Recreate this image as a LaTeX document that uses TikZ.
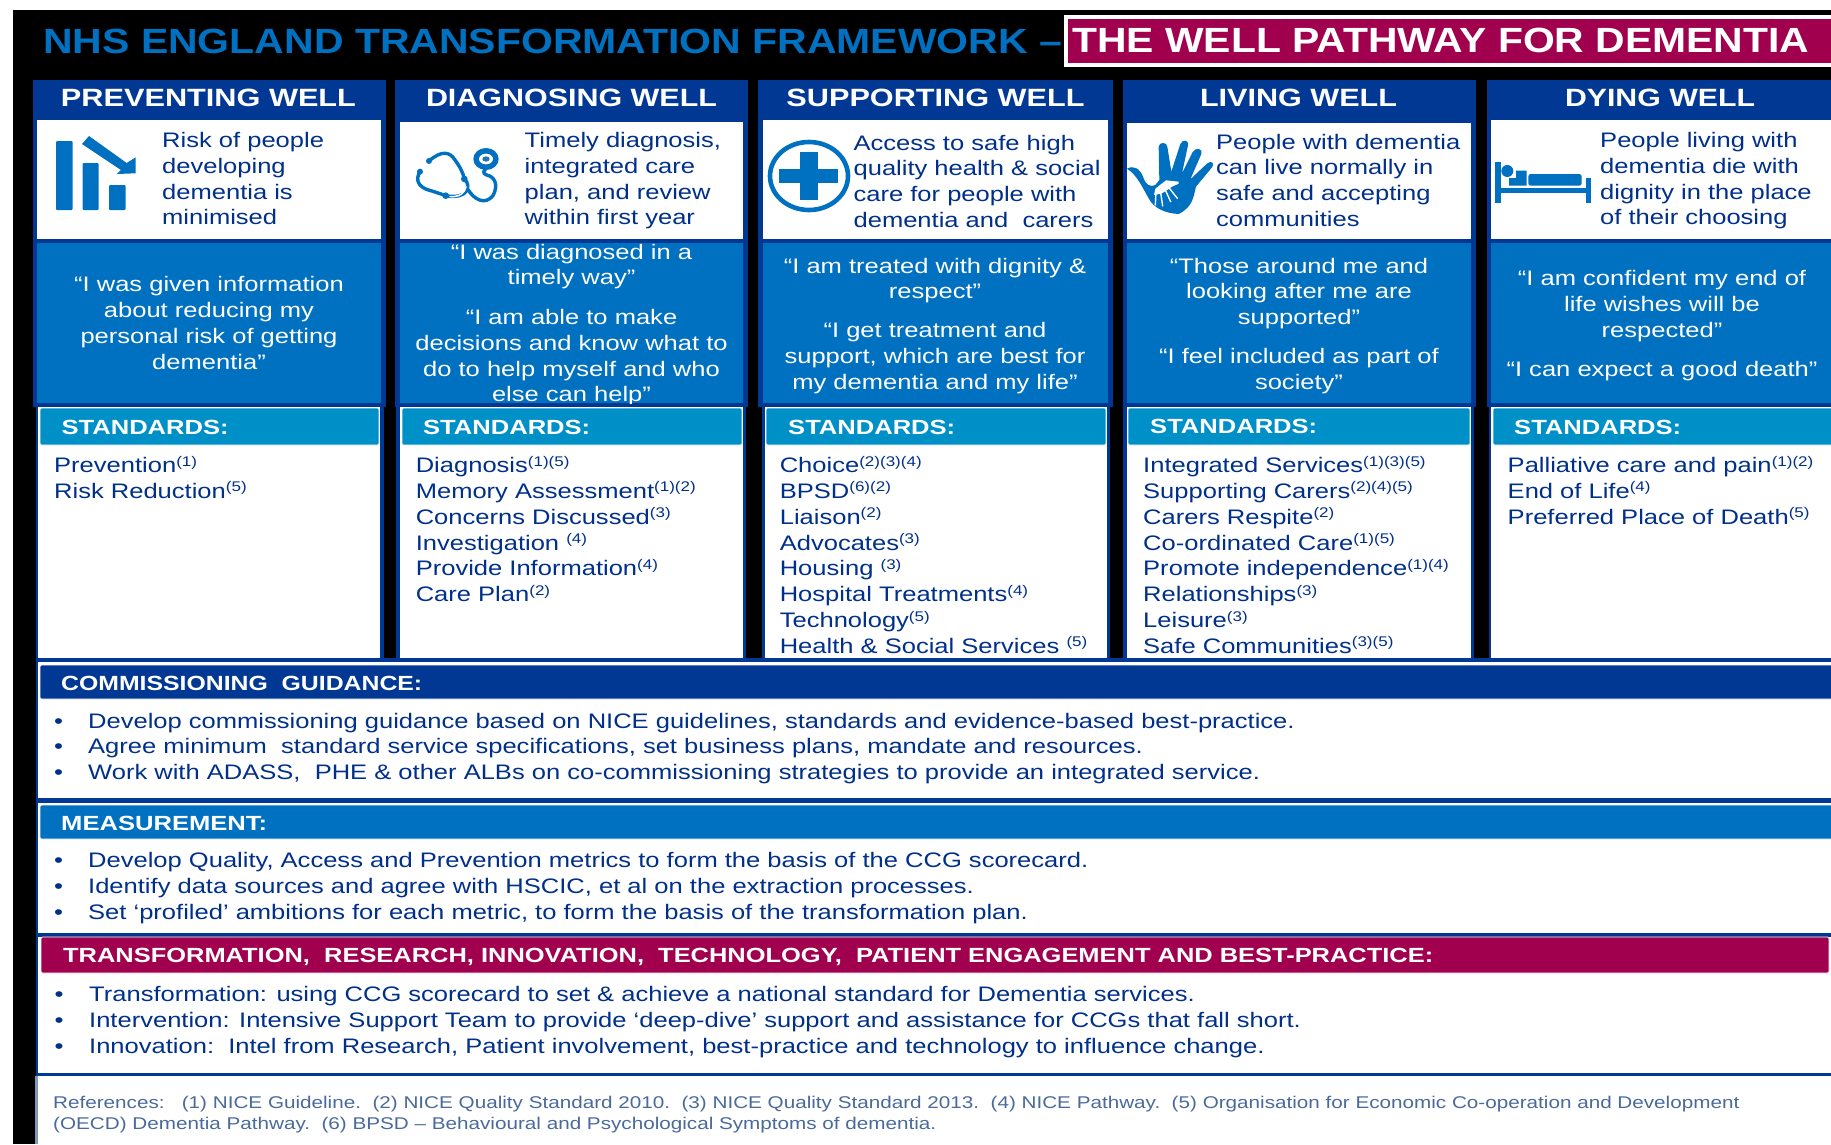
\documentclass[tikz,border=0pt]{standalone}
\usepackage{fontspec}
\usepackage{graphicx}
\setmainfont[FakeStretch=1.216]{Liberation Sans}
\definecolor{navy}{HTML}{003893}
\definecolor{nhs}{HTML}{0070C0}
\definecolor{std}{HTML}{0090C8}
\definecolor{crim}{HTML}{A0004E}
\definecolor{ink}{HTML}{00308A}
\definecolor{refink}{HTML}{4A6A9C}
\newcommand\fb{\rule{0pt}{20pt}}
\newcommand\sps[1]{\raisebox{6.5pt}{\fontsize{14}{14}\selectfont #1}}
\newcommand\fitw[2]{\resizebox{#1pt}{\height}{#2}}
\tikzset{
  band/.style={fill=navy,draw=none},
  whitebox/.style={fill=white,draw=none},
  bluebox/.style={fill=nhs,draw=none},
  stdbar/.style={fill=std,draw=white,line width=.6pt,rounded corners=1.5pt},
  crimbar/.style={fill=crim,draw=white,line width=.6pt,rounded corners=1.5pt},
  navybar/.style={fill=navy,draw=white,line width=.6pt,rounded corners=1.5pt},
  bluebar/.style={fill=nhs,draw=white,line width=.6pt,rounded corners=1.5pt},
  coltitle/.style={font=\fontsize{25}{25}\bfseries\selectfont,text=white,inner sep=0,anchor=base},
  barlabel/.style={font=\fontsize{20.5}{25}\bfseries\selectfont,text=white,inner sep=0,anchor=base west},
  body/.style={font=\fontsize{21}{25.7}\selectfont,text=ink,inner sep=0,align=left,anchor=north west},
  listing/.style={font=\fontsize{21}{25.85}\selectfont,text=ink,inner sep=0,align=left,anchor=north west},
  quote/.style={font=\fontsize{21}{25.7}\selectfont,text=white,inner sep=0,align=center,anchor=north},
  refs/.style={font=\fontsize{17}{21}\selectfont,text=refink,inner sep=0,align=left,anchor=north west},
  icon/.style={fill=nhs,draw=none},
  iconline/.style={draw=nhs,line width=3.4pt,line cap=round,fill=none},
}
\begin{document}
\begin{tikzpicture}[x=1pt,y=-1pt]
\useasboundingbox (0,0) rectangle (1831,1144);
\fill[white] (0,0) rectangle (1831,1144);
\fill[black] (13,10) rectangle (1831,1144);
% title
\node[inner sep=0,anchor=base west,text=nhs,font=\fontsize{35}{35}\bfseries\selectfont] (maintitle) at (43,53.3) {\fitw{1019}{NHS ENGLAND TRANSFORMATION FRAMEWORK –}};
\fill[crim,draw=white,line width=4pt] (1066,17) rectangle (1840,65);
\node[inner sep=0,anchor=base west,text=white,font=\fontsize{35}{35}\bfseries\selectfont] (subtitle) at (1072,52.7) {\fitw{737}{THE WELL PATHWAY FOR DEMENTIA}};
% column frames
\fill[band] (33,80) rectangle (386,407);
\fill[band] (395,80) rectangle (748,407);
\fill[band] (758,80) rectangle (1113,407);
\fill[band] (1123,80) rectangle (1476,407);
\fill[band] (1487,80) rectangle (1831,407);
\fill[band] (35.5,407) rectangle (383.5,664);
\fill[band] (396,407) rectangle (746,664);
\fill[band] (762,407) rectangle (1110,664);
\fill[band] (1123,407) rectangle (1474,664);
\fill[band] (1489,407) rectangle (1831,664);
% icon boxes
\fill[whitebox] (37,120) rectangle (381,239);
\fill[whitebox] (400,122) rectangle (743,239);
\fill[whitebox] (763,120) rectangle (1108,239);
\fill[whitebox] (1127,123) rectangle (1471,239);
\fill[whitebox] (1491,120) rectangle (1831,239);
% quote boxes
\fill[bluebox] (37,243) rectangle (381,403);
\fill[bluebox] (400,243) rectangle (743,403);
\fill[bluebox] (763,243) rectangle (1108,403);
\fill[bluebox] (1127,243) rectangle (1471,403);
\fill[bluebox] (1491,243) rectangle (1831,403);
% column titles
\node[coltitle] (t1) at (208.5,106) {\fitw{295}{PREVENTING WELL}};
\node[coltitle] (t2) at (571.5,106) {\fitw{291}{DIAGNOSING WELL}};
\node[coltitle] (t3) at (935.5,106) {\fitw{298}{SUPPORTING WELL}};
\node[coltitle] (t4) at (1298.5,106) {\fitw{197}{LIVING WELL}};
\node[coltitle] (t5) at (1660,106) {\fitw{190}{DYING WELL}};
% icon texts
\node[body] (a1) at (162,127.6) {\fb Risk of people\\developing\\dementia is\\minimised};
\node[body] (a2) at (524.5,127.6) {\fb Timely diagnosis,\\integrated care\\plan, and review\\within first year};
\node[body] (a3) at (853.4,130) {\fb Access to safe high\\quality health \& social\\care for people with\\dementia and\ \ carers};
\node[body] (a4) at (1216,129) {\fb People with dementia\\can live normally in\\safe and accepting\\communities};
\node[body] (a5) at (1600,127.6) {\fb People living with\\dementia die with\\dignity in the place\\of their choosing};
% quotes
\node[quote] (q1) at (209,271.7) {\fb “I was given information\\about reducing my\\personal risk of getting\\dementia”};
\begin{scope}
\clip (400,243) rectangle (743,403);
\node[quote] (q2) at (571.5,239) {\fb “I was diagnosed in a\\timely way”\\[14pt]“I am able to make\\decisions and know what to\\do to help myself and who\\else can help”};
\end{scope}
\node[quote] (q3) at (935,253) {\fb “I am treated with dignity \&\\respect”\\[13.2pt]“I get treatment and\\support, which are best for\\my dementia and my life”};
\node[quote] (q4) at (1299,253) {\fb “Those around me and\\looking after me are\\supported”\\[13.2pt]“I feel included as part of\\society”};
\node[quote] (q5) at (1662,265.7) {\fb “I am confident my end of\\life wishes will be\\respected”\\[13.2pt]“I can expect a good death”};
% standards panels
\fill[whitebox] (38,407) rectangle (380,658);
\fill[whitebox] (399.5,407) rectangle (743.4,658);
\fill[whitebox] (765,407) rectangle (1107,658);
\fill[whitebox] (1127,407) rectangle (1471,658);
\fill[whitebox] (1491,407) rectangle (1831,658);
\path[stdbar] (40,408) rectangle (379,445);
\path[stdbar] (402,408) rectangle (742,445);
\path[stdbar] (766,408) rectangle (1106,445);
\path[stdbar] (1128,408) rectangle (1470,445);
\path[stdbar] (1493,408) rectangle (1840,445);
\node[barlabel] (s1) at (61.4,434) {\fitw{167}{STANDARDS:}};
\node[barlabel] (s2) at (423,434) {\fitw{167}{STANDARDS:}};
\node[barlabel] (s3) at (788,434) {\fitw{167}{STANDARDS:}};
\node[barlabel] (s4) at (1150,433) {\fitw{167}{STANDARDS:}};
\node[barlabel] (s5) at (1514,434) {\fitw{167}{STANDARDS:}};
\node[listing] (l1) at (54,452.3) {\fb Prevention\sps{(1)}\\Risk Reduction\sps{(5)}};
\node[listing] (l2) at (415.6,452.3) {\fb Diagnosis\sps{(1)(5)}\\Memory Assessment\sps{(1)(2)}\\Concerns Discussed\sps{(3)}\\Investigation \sps{(4)}\\Provide Information\sps{(4)}\\Care Plan\sps{(2)}};
\node[listing] (l3) at (779.6,452.3) {\fb Choice\sps{(2)(3)(4)}\\BPSD\sps{(6)(2)}\\Liaison\sps{(2)}\\Advocates\sps{(3)}\\Housing \sps{(3)}\\Hospital Treatments\sps{(4)}\\Technology\sps{(5)}\\Health \& Social Services \sps{(5)}};
\node[listing] (l4) at (1143,452.3) {\fb Integrated Services\sps{(1)(3)(5)}\\Supporting Carers\sps{(2)(4)(5)}\\Carers Respite\sps{(2)}\\Co-ordinated Care\sps{(1)(5)}\\Promote independence\sps{(1)(4)}\\Relationships\sps{(3)}\\Leisure\sps{(3)}\\Safe Communities\sps{(3)(5)}};
\node[listing] (l5) at (1507.5,452.3) {\fb Palliative care and pain\sps{(1)(2)}\\End of Life\sps{(4)}\\Preferred Place of Death\sps{(5)}};
% lower bands
\fill[band] (35.5,658) rectangle (1831,1076);
\fill[whitebox] (38,662) rectangle (1831,798);
\fill[whitebox] (38,803) rectangle (1831,933);
\fill[whitebox] (38,937) rectangle (1831,1073);
\fill[white] (35.5,1076) rectangle (1831,1144);
\fill[refink!70] (34.5,1076) rectangle (38,1144);
\path[navybar] (40,665) rectangle (1840,699);
\path[bluebar] (40,805) rectangle (1840,839);
\path[crimbar] (41,937) rectangle (1829,973);
\node[barlabel] (h1) at (61,690) {\fitw{361}{COMMISSIONING\ \ GUIDANCE:}};
\node[barlabel] (h2) at (61,830) {\fitw{206}{MEASUREMENT:}};
\node[barlabel] (h3) at (63,962.3) {\fitw{1370}{TRANSFORMATION,\ \ RESEARCH, INNOVATION,\ \ TECHNOLOGY,\ \ PATIENT ENGAGEMENT AND BEST-PRACTICE:}};
% bullets
\node[body] (b1m) at (54,708) {\fb •\\•\\•};
\node[body] (b1) at (88,708) {\fb Develop commissioning guidance based on NICE guidelines, standards and evidence-based best-practice.\\Agree minimum\ \ standard service specifications, set business plans, mandate and resources.\\Work with ADASS,\ \ PHE \& other ALBs on co-commissioning strategies to provide an integrated service.};
\node[body] (b2m) at (54,847.7) {\fb •\\•\\•};
\node[body] (b2) at (88,847.7) {\fb Develop Quality, Access and Prevention metrics to form the basis of the CCG scorecard.\\Identify data sources and agree with HSCIC, et al on the extraction processes.\\Set ‘profiled’ ambitions for each metric, to form the basis of the transformation plan.};
\node[body] (b3m) at (54.5,981.7) {\fb •\\•\\•};
\node[body] (b3) at (89,981.7) {\fb Transformation: using CCG scorecard to set \& achieve a national standard for Dementia services.\\Intervention: Intensive Support Team to provide ‘deep-dive’ support and assistance for CCGs that fall short.\\Innovation:\ \ Intel from Research, Patient involvement, best-practice and technology to influence change.};
\node[refs] (refs) at (53,1088.3) {\fb References:\ \ \ (1) NICE Guideline.\ \ (2) NICE Quality Standard 2010.\ \ (3) NICE Quality Standard 2013.\ \ (4) NICE Pathway.\ \ (5) Organisation for Economic Co-operation and Development\\(OECD) Dementia Pathway.\ \ (6) BPSD – Behavioural and Psychological Symptoms of dementia.};
% icon 1: bars
\fill[icon,rounded corners=1pt] (56,141) rectangle (72.7,210);
\fill[icon,rounded corners=1pt] (82.7,163) rectangle (98.7,210);
\fill[icon,rounded corners=1pt] (109,185) rectangle (125.7,210);
\fill[icon] (82,144) -- (89,136) -- (126.7,163) -- (135.7,157.3) -- (135.7,173.3) -- (116.7,174) -- (121,170) -- cycle;
% icon 2: stethoscope
\begin{scope}[xshift=405pt,yshift=-135pt,x=0.3333pt,y=-0.3333pt]
\draw[iconline] (72,78) .. controls (110,45) and (135,50) .. (150,75) .. controls (165,95) and (175,115) .. (178,132);
\draw[iconline] (45,110) .. controls (30,135) and (40,155) .. (70,165) .. controls (90,170) and (110,178) .. (122,182);
\draw[iconline] (178,132) .. controls (200,150) and (190,195) .. (122,182);
\draw[iconline,line width=1.6pt,draw=white] (183,155) .. controls (180,175) and (160,187) .. (135,185);
\draw[iconline] (190,165) .. controls (205,190) and (240,215) .. (265,180) .. controls (280,150) and (270,125) .. (245,120) .. controls (230,115) and (238,105) .. (243,100);
\fill[icon] (72,78) circle (9) (45,110) circle (9) (178,132) circle (10) (122,182) circle (10);
\fill[icon] (243,72) ellipse (38 and 33);
\fill[white] (243,72) ellipse (21 and 16);
\fill[nhs!75!gray] (243,72) ellipse (11 and 8);
\end{scope}
% icon 3: cross
\draw[nhs,line width=4.6pt] (809,176) ellipse (39 and 34);
\fill[icon] (800,152.3) rectangle (818,200);
\fill[icon] (779.3,169) rectangle (838.3,183.3);
% icon 4: hand
\begin{scope}[xshift=1122pt,yshift=-130pt,x=0.3333pt,y=-0.3333pt]
\fill[icon] (15,116) .. controls (35,105) and (55,115) .. (65,145) .. controls (72,165) and (85,172) .. (100,165) -- (112,150)
 -- (110,50) .. controls (112,35) and (134,35) .. (136,50) -- (148,125)
 -- (175,42) .. controls (182,26) and (202,30) .. (198,46) -- (180,130)
 -- (212,66) .. controls (222,50) and (244,56) .. (238,72) -- (205,148)
 -- (256,100) .. controls (268,90) and (280,100) .. (270,112) -- (222,170)
 .. controls (215,195) and (215,230) .. (170,252) .. controls (130,250) and (95,235) .. (80,205) .. controls (60,170) and (45,135) .. (15,116) -- cycle;
\fill[white] (170,155) -- (132,151) -- (100,176) -- (96,195) -- (120,190) -- (150,170) -- (170,161) -- cycle;
\draw[white,line width=1.4pt,line cap=round] (100,225) -- (102,185) (122,228) -- (116,188) (146,215) -- (130,180) (166,205) -- (140,172);
\end{scope}
% icon 5: bed
\fill[icon] (1495,161.7) rectangle (1501,202.7);
\fill[icon] (1585.7,178.3) rectangle (1591,202.7);
\fill[icon] (1495,188.3) rectangle (1591,193.3);
\fill[icon] (1507.3,171) circle (6);
\fill[icon] (1509,178) -- (1516,178) -- (1516,170.7) -- (1526.7,170.7) -- (1526.7,185.7) -- (1509,185.7) -- cycle;
\fill[icon,rounded corners=2.5pt] (1528.3,174) rectangle (1581.7,185.7);
\end{tikzpicture}
\end{document}
